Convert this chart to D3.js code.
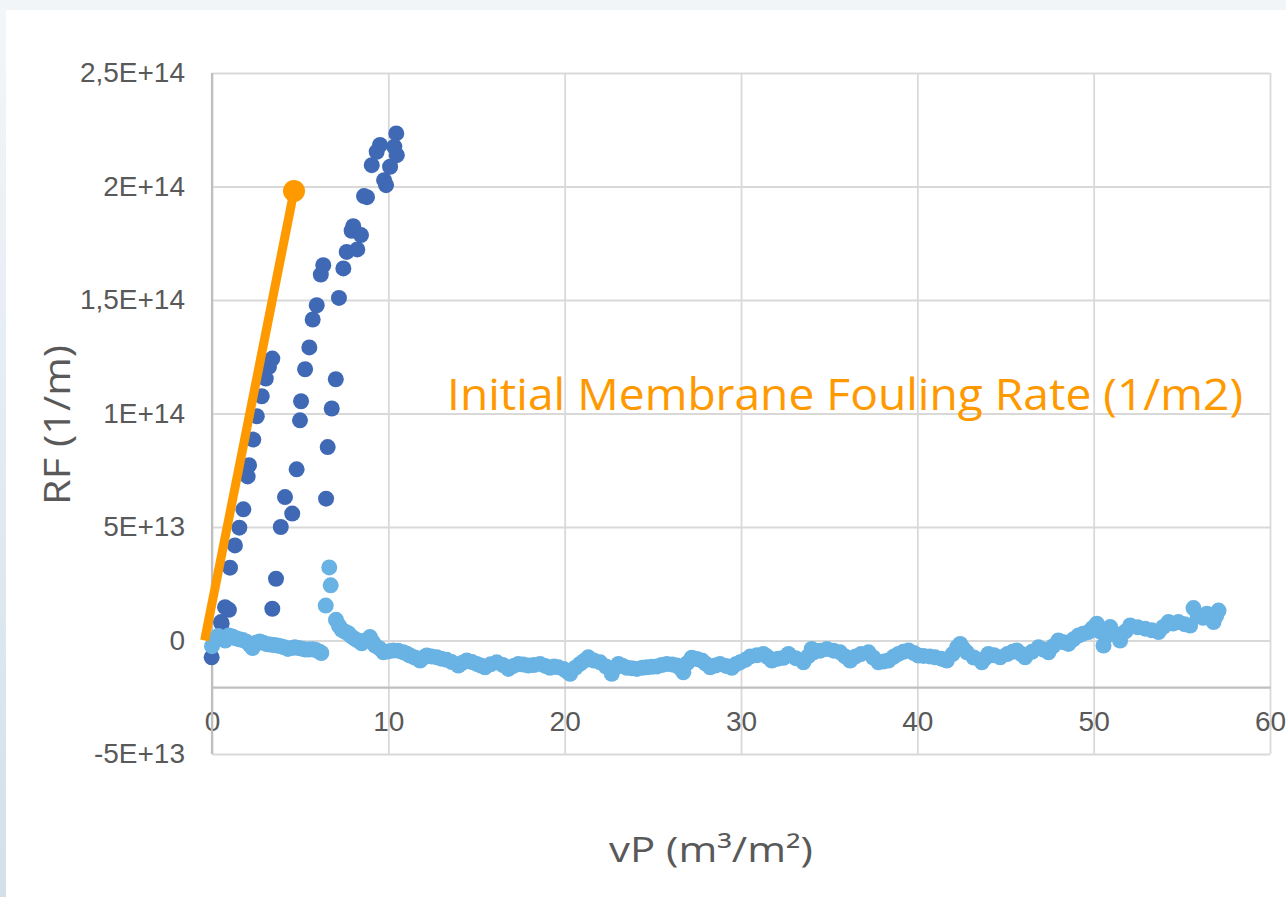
<!DOCTYPE html>
<html>
<head>
<meta charset="utf-8">
<script src="https://cdn.jsdelivr.net/npm/d3@7"></script>
<style>
  body { margin: 0; background: #f0f4f8; }
  svg { display: block; }
</style>
</head>
<body>
<svg></svg>
<script>
const WIDTH = 1286;
const HEIGHT = 897;
const LEFT = 212;
const RIGHT = 1270;
const TOP = 73;
const BOTTOM = 754;
const Y_UNIT = 1e13;

// dark blue series: [vP, RF in 1E13]
const darkPoints = [
    [-0.02, -0.74], [0.51, 0.81], [0.55, 0.75], [0.74, 1.47], [0.96, 1.35], [1.02, 3.21],
    [1.30, 4.19], [1.55, 4.97], [1.78, 5.78], [2.02, 7.23], [2.10, 7.72], [2.34, 8.85],
    [2.54, 9.88], [2.82, 10.76], [3.05, 11.54], [3.23, 12.05], [3.42, 12.42], [3.42, 1.40],
    [3.63, 2.72], [3.90, 5.00], [4.14, 6.32], [4.55, 5.59], [4.80, 7.54], [4.99, 9.70],
    [5.05, 10.54], [5.28, 11.95], [5.52, 12.91], [5.71, 14.14], [5.94, 14.77], [6.17, 16.12],
    [6.31, 16.53], [6.47, 6.25], [6.56, 8.52], [6.79, 10.22], [7.02, 11.51], [7.20, 15.09],
    [7.45, 16.39], [7.64, 17.12], [7.92, 18.05], [8.01, 18.25], [8.24, 17.23], [8.45, 17.86],
    [8.62, 19.58], [8.79, 19.53], [9.06, 20.94], [9.34, 21.53], [9.53, 21.83], [9.76, 20.28],
    [9.87, 20.06], [10.10, 20.87], [10.34, 21.75], [10.45, 22.34], [10.48, 21.38]
];

// light blue series: [vP, RF in 1E13]
const lightPoints = [
    [0.00, -0.25], [0.15, 0.05], [0.35, 0.20], [0.55, 0.10], [0.75, 0.00], [0.95, 0.22],
    [1.15, 0.18], [1.35, 0.10], [1.55, 0.05], [1.75, 0.02], [1.95, -0.05], [2.15, -0.20],
    [2.30, -0.33], [2.50, -0.10], [2.70, -0.04], [2.90, -0.10], [3.10, -0.16], [3.30, -0.18],
    [3.50, -0.20], [3.70, -0.22], [3.90, -0.25], [4.10, -0.30], [4.30, -0.37], [4.50, -0.33],
    [4.70, -0.30], [4.90, -0.33], [5.10, -0.36], [5.30, -0.40], [5.50, -0.40], [5.70, -0.38],
    [5.90, -0.42], [6.10, -0.50], [6.20, -0.55],
    [6.45, 1.54], [6.65, 3.22], [6.73, 2.43], [7.03, 0.91], [7.20, 0.65], [7.36, 0.47],
    [7.55, 0.38], [7.73, 0.32], [7.90, 0.18], [8.11, 0.07], [8.30, -0.02], [8.49, -0.12],
    [8.70, 0.00], [8.96, 0.15], [9.10, -0.05], [9.25, -0.22], [9.50, -0.35], [9.72, -0.52],
    [10.00, -0.48], [10.28, -0.44], [10.55, -0.45], [10.85, -0.52], [11.05, -0.58], [11.23, -0.66],
    [11.50, -0.75], [11.80, -0.88], [12.00, -0.75], [12.18, -0.66], [12.45, -0.70], [12.75, -0.74],
    [13.00, -0.80], [13.31, -0.85], [13.60, -0.95], [13.97, -1.10], [14.20, -0.98], [14.45, -0.88],
    [14.75, -0.95], [15.01, -1.03], [15.25, -1.10], [15.48, -1.18], [15.80, -1.05], [16.15, -0.96],
    [16.50, -1.08], [16.81, -1.25], [17.10, -1.12], [17.37, -1.03], [17.65, -1.06], [17.94, -1.10],
    [18.25, -1.08], [18.60, -1.03], [18.90, -1.12], [19.17, -1.20], [19.40, -1.15], [19.64, -1.18],
    [19.93, -1.25], [20.10, -1.35], [20.31, -1.47], [20.60, -1.20], [20.87, -1.03], [21.10, -0.90],
    [21.34, -0.74], [21.65, -0.88], [22.01, -0.96], [22.35, -1.15], [22.67, -1.47], [22.85, -1.20],
    [23.05, -1.03], [23.30, -1.12], [23.52, -1.20], [23.80, -1.22], [24.09, -1.25], [24.40, -1.20],
    [24.66, -1.18], [24.95, -1.16], [25.22, -1.15], [25.50, -1.08], [25.79, -1.03], [26.10, -1.06],
    [26.36, -1.10], [26.55, -1.22], [26.73, -1.40], [26.95, -1.00], [27.21, -0.76], [27.50, -0.82],
    [27.78, -0.88], [28.00, -1.02], [28.25, -1.18], [28.55, -1.10], [28.81, -1.03], [29.15, -1.12],
    [29.48, -1.20], [29.70, -1.05], [29.95, -0.96], [30.25, -0.85], [30.52, -0.71], [30.90, -0.65],
    [31.27, -0.59], [31.50, -0.72], [31.75, -0.88], [32.10, -0.80], [32.41, -0.76], [32.69, -0.59],
    [33.10, -0.78], [33.54, -0.96], [33.80, -0.70], [34.01, -0.37], [34.12, -0.52], [34.50, -0.45],
    [34.87, -0.37], [35.25, -0.45], [35.62, -0.52], [35.90, -0.70], [36.19, -0.88], [36.50, -0.70],
    [36.80, -0.60], [37.23, -0.52], [37.50, -0.75], [37.79, -0.96], [38.10, -0.92], [38.36, -0.88],
    [38.65, -0.72], [38.93, -0.59], [39.20, -0.50], [39.50, -0.44], [39.80, -0.55], [40.06, -0.66],
    [40.35, -0.68], [40.70, -0.70], [41.01, -0.74], [41.35, -0.80], [41.67, -0.88], [42.00, -0.60],
    [42.25, -0.30], [42.43, -0.15], [42.60, -0.35], [42.81, -0.52], [43.20, -0.75], [43.66, -0.96],
    [43.85, -0.78], [44.03, -0.59], [44.35, -0.65], [44.70, -0.74], [45.10, -0.60], [45.40, -0.50],
    [45.64, -0.44], [45.90, -0.60], [46.11, -0.74], [46.50, -0.50], [46.87, -0.30], [47.15, -0.40],
    [47.44, -0.52], [47.70, -0.25], [48.00, 0.00], [48.30, -0.08], [48.57, -0.15], [48.85, 0.05],
    [49.14, 0.22], [49.40, 0.30], [49.70, 0.37], [49.95, 0.55], [50.18, 0.74], [50.35, 0.40],
    [50.56, -0.22], [50.75, 0.20], [50.94, 0.59], [51.20, 0.30], [51.50, 0.00], [51.80, 0.40],
    [52.07, 0.66], [52.50, 0.58], [52.92, 0.52], [53.30, 0.45], [53.68, 0.37], [53.95, 0.60],
    [54.24, 0.81], [54.50, 0.75], [54.81, 0.81], [55.15, 0.72], [55.47, 0.66], [55.66, 1.43],
    [55.90, 1.10], [56.20, 1.00], [56.42, 1.18], [56.80, 0.81], [56.95, 1.10], [57.08, 1.32]
];

// initial fouling rate line: [vP, RF in 1E13]
const rateLine = [[-0.42, 0], [4.65, 19.8]];

const xTicks = [0, 10, 20, 30, 40, 50, 60];
const yTicks = [-5e13, 0, 5e13, 1e14, 1.5e14, 2e14, 2.5e14];
const yTickLabels = ["-5E+13", "0", "5E+13", "1E+14", "1,5E+14", "2E+14", "2,5E+14"];

let svg = d3.select("svg")
    .attr("width", WIDTH)
    .attr("height", HEIGHT);

let x = d3.scaleLinear().domain([0, 60]).range([LEFT, RIGHT]);
let y = d3.scaleLinear().domain([-5e13, 2.5e14]).range([BOTTOM, TOP]);

function drawBackground() {
    let defs = svg.append("defs");
    let grad = defs.append("linearGradient")
        .attr("id", "edge")
        .attr("x1", 0).attr("y1", 0).attr("x2", 0).attr("y2", 1);
    grad.append("stop").attr("offset", "0%").attr("stop-color", "#f3f6f9");
    grad.append("stop").attr("offset", "100%").attr("stop-color", "#d3e0ea");

    svg.append("rect")
        .attr("width", WIDTH).attr("height", HEIGHT)
        .style("fill", "#f2f5f8");
    svg.append("rect")
        .attr("width", 6).attr("height", HEIGHT)
        .style("fill", "url(#edge)");
    svg.append("rect")
        .attr("x", 6).attr("y", 10)
        .attr("width", WIDTH - 6).attr("height", HEIGHT - 10)
        .style("fill", "white");
}

function drawAxes() {
    // horizontal gridlines + y labels
    let gy = svg.append("g")
        .attr("transform", `translate(${LEFT},0)`)
        .call(d3.axisLeft(y)
            .tickValues(yTicks)
            .tickSize(-(RIGHT - LEFT))
            .tickPadding(27)
            .tickFormat((d, i) => yTickLabels[i]));
    gy.select(".domain").remove();
    gy.selectAll("line").style("stroke", "#d9d9d9").style("stroke-width", 1.8);
    gy.selectAll("text")
        .style("font-family", "'Liberation Sans', Arial, sans-serif")
        .style("font-size", "28px")
        .style("fill", "#595959");

    // vertical gridlines
    let gx = svg.append("g")
        .attr("transform", `translate(0,${BOTTOM})`)
        .call(d3.axisBottom(x)
            .tickValues(xTicks)
            .tickSize(-(BOTTOM - TOP))
            .tickFormat(""));
    gx.select(".domain").remove();
    gx.selectAll("line").style("stroke", "#d9d9d9").style("stroke-width", 1.8);

    // x axis line crossing at about -2E13, with labels under it
    let ax = svg.append("g")
        .attr("transform", `translate(0,${y(-2.05e13)})`)
        .call(d3.axisBottom(x)
            .tickValues(xTicks)
            .tickSize(0)
            .tickSizeOuter(0)
            .tickPadding(24));
    ax.select(".domain").style("stroke", "#bfbfbf").style("stroke-width", 2.2);
    ax.selectAll("text")
        .style("font-family", "'Liberation Sans', Arial, sans-serif")
        .style("font-size", "28px")
        .style("fill", "#595959");

    // vertical axis line
    svg.append("line")
        .attr("x1", x(0)).attr("x2", x(0))
        .attr("y1", TOP).attr("y2", BOTTOM)
        .style("stroke", "#bfbfbf")
        .style("stroke-width", 2.2);
}

function drawSeries() {
    svg.append("g").selectAll("circle")
        .data(darkPoints)
        .join("circle")
        .attr("cx", d => x(d[0]))
        .attr("cy", d => y(d[1] * Y_UNIT))
        .attr("r", 8)
        .style("fill", "#3f69b5");

    svg.append("g").selectAll("circle")
        .data(lightPoints)
        .join("circle")
        .attr("cx", d => x(d[0]))
        .attr("cy", d => y(d[1] * Y_UNIT))
        .attr("r", 8)
        .style("fill", "#69b2e4");

    let line = d3.line()
        .x(d => x(d[0]))
        .y(d => y(d[1] * Y_UNIT));
    svg.append("path")
        .attr("d", line(rateLine))
        .style("fill", "none")
        .style("stroke", "#ff9900")
        .style("stroke-width", 9);
    let end = rateLine[rateLine.length - 1];
    svg.append("circle")
        .attr("cx", x(end[0]))
        .attr("cy", y(end[1] * Y_UNIT))
        .attr("r", 11)
        .style("fill", "#ff9900");
}

function drawTitles() {
    svg.append("text")
        .attr("transform", "translate(70,425) rotate(-90)")
        .attr("text-anchor", "middle")
        .attr("textLength", 160)
        .attr("lengthAdjust", "spacingAndGlyphs")
        .style("font-family", "'Open Sans', sans-serif")
        .style("font-size", "36px")
        .style("fill", "#595959")
        .text("RF (1/m)");

    svg.append("text")
        .attr("x", 711).attr("y", 862)
        .attr("text-anchor", "middle")
        .attr("textLength", 204)
        .attr("lengthAdjust", "spacingAndGlyphs")
        .style("font-family", "'Open Sans', sans-serif")
        .style("font-size", "34px")
        .style("fill", "#595959")
        .text("vP (m³/m²)");

    svg.append("text")
        .attr("x", 447).attr("y", 410)
        .attr("textLength", 796)
        .attr("lengthAdjust", "spacingAndGlyphs")
        .style("font-family", "'Open Sans', sans-serif")
        .style("font-size", "43px")
        .style("fill", "#ff9900")
        .text("Initial Membrane Fouling Rate (1/m2)");
}

drawBackground();
drawAxes();
drawSeries();
drawTitles();
</script>
</body>
</html>
